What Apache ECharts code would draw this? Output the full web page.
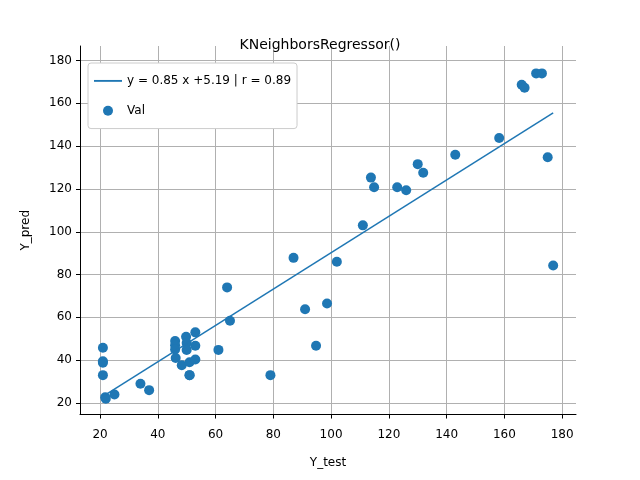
<!DOCTYPE html><html><head><script src="https://cdn.jsdelivr.net/npm/echarts@6/dist/echarts.min.js"></script></head><body style="margin:0"><div id="c" style="width:640px;height:480px"></div><script>
const xTest=[21,21,21,21,21.8,22,25,34,37,46,46,46,46.2,48.3,49.8,50,50,51,51,51,53,53,53,61,64,65,79,87,91,94.8,98.6,102,111,113.8,114.9,122.9,126,130,131.9,143,158.2,166,167,171,173,175,176.9];
const yPred=[45.8,38.8,39.5,33,22.7,22,24,29,26,49,47,45,41,37.6,50.9,48,44.8,39,33,33,53,46.7,40.3,44.8,74,58.4,33,87.8,63.8,46.7,66.5,86,103,125.3,120.8,120.8,119.4,131.6,127.6,136,143.8,168.7,167.3,174,174,134.8,84.2];
const xTicks=[20,40,60,80,100,120,140,160,180];
const yTicks=[20,40,60,80,100,120,140,160,180];
const slope=0.85, intercept=5.19;
const xmin=Math.min(...xTest), xmax=Math.max(...xTest);
const fit=[[xmin,slope*xmin+intercept],[xmax,slope*xmax+intercept]];
const ch=echarts.init(document.getElementById('c'));
function axis(ticks,extra){return Object.assign({type:'value',axisLine:{show:true,onZero:false,lineStyle:{color:'#000'}},
axisTick:{show:true,length:4,customValues:ticks,lineStyle:{color:'#000'}},
axisLabel:{color:'#000',fontSize:12,fontFamily:'DejaVu Sans',customValues:ticks},
splitLine:{show:true,lineStyle:{color:'#b0b0b0'}},nameLocation:'middle',nameTextStyle:{color:'#000',fontSize:12,fontFamily:'DejaVu Sans'}},extra);}
ch.setOption({animation:false,
title:{text:'KNeighborsRegressor()',left:'center',top:26,textStyle:{fontWeight:'normal',fontSize:14,color:'#000',fontFamily:'DejaVu Sans'}},
grid:{left:80,right:64,top:46,bottom:53},
legend:{orient:'vertical',left:88,top:63,backgroundColor:'#fff',borderColor:'#ccc',borderWidth:1,borderRadius:3,padding:[6,6],itemGap:6,itemHeight:10,itemWidth:28,textStyle:{fontSize:12,fontFamily:'DejaVu Sans',color:'#000'},
data:[{name:'y = 0.85 x +5.19 | r = 0.89',icon:'path://M0,0H30V2H0Z'},{name:'Val',icon:'circle'}]},
xAxis:axis(xTicks,{min:13.07,max:184.8,name:'Y_test',nameGap:26}),
yAxis:axis(yTicks,{min:14.6,max:186.8,name:'Y_pred',nameGap:38}),
series:[
{name:'y = 0.85 x +5.19 | r = 0.89',type:'line',data:fit,showSymbol:false,lineStyle:{color:'#1f77b4',width:1.5},itemStyle:{color:'#1f77b4'}},
{name:'Val',type:'scatter',data:xTest.map((x,i)=>[x,yPred[i]]),symbolSize:10,itemStyle:{color:'#1f77b4',opacity:1}}
]});
</script></body></html>
